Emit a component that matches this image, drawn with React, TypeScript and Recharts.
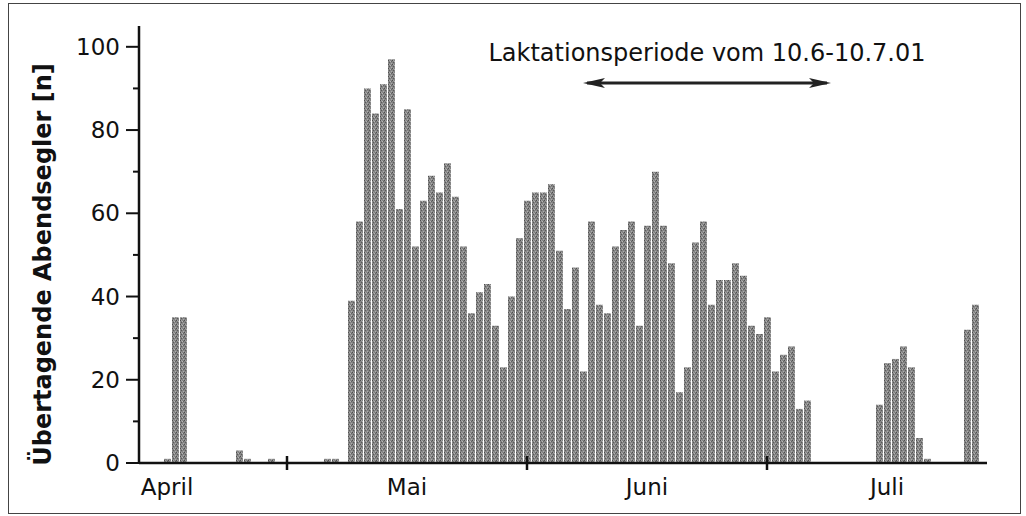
import { BarChart, Bar, XAxis, YAxis, ReferenceLine } from 'recharts'

// daily counts, one slot per day (mid April .. end of July)
const counts = [
  0, 0, 0, 1, 35, 35, 0, 0, 0, 0, 0, 0, 3, 1, 0, 0, 1, 0, 0, 0, 0, 0, 0, 1, 1, 0,
  39, 58, 90, 84, 91, 97, 61, 85, 52, 63, 69, 65, 72, 64, 52, 36, 41, 43, 33, 23,
  40, 54, 63, 65, 65, 67, 51, 37, 47, 22, 58, 38, 36, 52, 56, 58, 33, 57, 70, 57,
  48, 17, 23, 53, 58, 38, 44, 44, 48, 45, 33, 31, 35, 22, 26, 28, 13, 15,
  0, 0, 0, 0, 0, 0, 0, 0,
  14, 24, 25, 28, 23, 6, 1,
  0, 0, 0, 0,
  32, 38, 0,
]

const monthLabels = ['April', 'Mai', 'Juni', 'Juli']
const monthLabelDays = [3, 33, 63, 93]
const monthBoundaryDays = [18, 48, 78]
const yTicks = [0, 10, 20, 30, 40, 50, 60, 70, 80, 90, 100]

const lactationStart = 55
const lactationEnd = 86
const lactationLevel = 91.3
const lactationText = 'Laktationsperiode vom 10.6-10.7.01'
const yTitle = 'Übertagende Abendsegler [n]'

const data = counts.map((n, day) => ({ day, n }))

const FONT = '"DejaVu Sans", sans-serif'

function XTick(props: any) {
  const { x, y, payload } = props
  const day = payload.value
  const li = monthLabelDays.indexOf(day)
  if (monthBoundaryDays.includes(day)) {
    return <line x1={x} x2={x} y1={y - 7} y2={y + 7} stroke="#111" strokeWidth={2.5} />
  }
  if (li >= 0) {
    return (
      <text x={x} y={y + 32} textAnchor="middle" fontSize={23} fontFamily={FONT} fill="#111">
        {monthLabels[li]}
      </text>
    )
  }
  return null
}

function YTick(props: any) {
  const { x, y, payload } = props
  const v = payload.value
  const major = v % 20 === 0
  return (
    <g>
      <line x1={x - (major ? 13 : 6)} x2={x} y1={y} y2={y} stroke="#111" strokeWidth={2} />
      {major && (
        <text x={x - 19} y={y + 8} textAnchor="end" fontSize={23} fontFamily={FONT} fill="#111">
          {v}
        </text>
      )}
    </g>
  )
}

function YTitle(props: any) {
  const { viewBox } = props
  const cx = viewBox.x - 36
  const cy = viewBox.y + viewBox.height / 2 + 20
  return (
    <text
      x={cx}
      y={cy}
      transform={`rotate(-90 ${cx} ${cy})`}
      textAnchor="middle"
      dominantBaseline="central"
      fontSize={24}
      fontWeight="bold"
      fontFamily={FONT}
      fill="#111"
    >
      {yTitle}
    </text>
  )
}

function LactationArrow(props: any) {
  const { x1, x2, y1 } = props
  const y = y1
  return (
    <g>
      <text x={(x1 + x2) / 2} y={y - 22} textAnchor="middle" fontSize={24} fontFamily={FONT} fill="#111">
        {lactationText}
      </text>
      <line x1={x1 + 4} x2={x2 - 4} y1={y} y2={y} stroke="#222" strokeWidth={3} />
      <polygon points={`${x1},${y} ${x1 + 22},${y - 5} ${x1 + 17},${y} ${x1 + 22},${y + 5}`} fill="#222" />
      <polygon points={`${x2},${y} ${x2 - 22},${y - 5} ${x2 - 17},${y} ${x2 - 22},${y + 5}`} fill="#222" />
    </g>
  )
}

export default function App() {
  return (
    <div style={{ position: 'absolute', left: 0, top: 0, width: 1026, height: 516, background: '#fff' }}>
      <div
        style={{
          position: 'absolute',
          left: 8,
          top: 3,
          width: 1013,
          height: 511,
          border: '1.5px solid #444',
          boxSizing: 'border-box',
        }}
      />
      <div style={{ position: 'absolute', left: 0, top: 0 }}>
        <BarChart
          width={1026}
          height={516}
          data={data}
          margin={{ top: 26, right: 39, bottom: 13, left: 79 }}
          barSize={7}
        >
          <defs>
            <pattern id="stipple" width="4" height="4" patternUnits="userSpaceOnUse">
              <rect width="4" height="4" fill="#858585" />
              <rect x="0" y="0" width="1" height="1" fill="#4e4e4e" />
              <rect x="2" y="1" width="1" height="1" fill="#b8b8b8" />
              <rect x="1" y="2" width="1" height="1" fill="#5a5a5a" />
              <rect x="3" y="3" width="1" height="1" fill="#adadad" />
              <rect x="3" y="1" width="1" height="1" fill="#646464" />
              <rect x="1" y="0" width="1" height="1" fill="#a2a2a2" />
            </pattern>
          </defs>
          <XAxis
            dataKey="day"
            type="category"
            interval={0}
            height={40}
            tickSize={0}
            tickMargin={0}
            tickLine={false}
            axisLine={{ stroke: '#111', strokeWidth: 2.5 }}
            tick={<XTick />}
          />
          <YAxis
            width={60}
            domain={[0, 105]}
            ticks={yTicks}
            interval={0}
            tickSize={0}
            tickMargin={0}
            tickLine={false}
            axisLine={{ stroke: '#111', strokeWidth: 2.5 }}
            tick={<YTick />}
            label={{ content: <YTitle /> }}
          />
          <Bar dataKey="n" fill="url(#stipple)" isAnimationActive={false} />
          <ReferenceLine
            segment={[
              { x: lactationStart, y: lactationLevel },
              { x: lactationEnd, y: lactationLevel },
            ]}
            shape={<LactationArrow />}
            ifOverflow="visible"
          />
        </BarChart>
      </div>
    </div>
  )
}
